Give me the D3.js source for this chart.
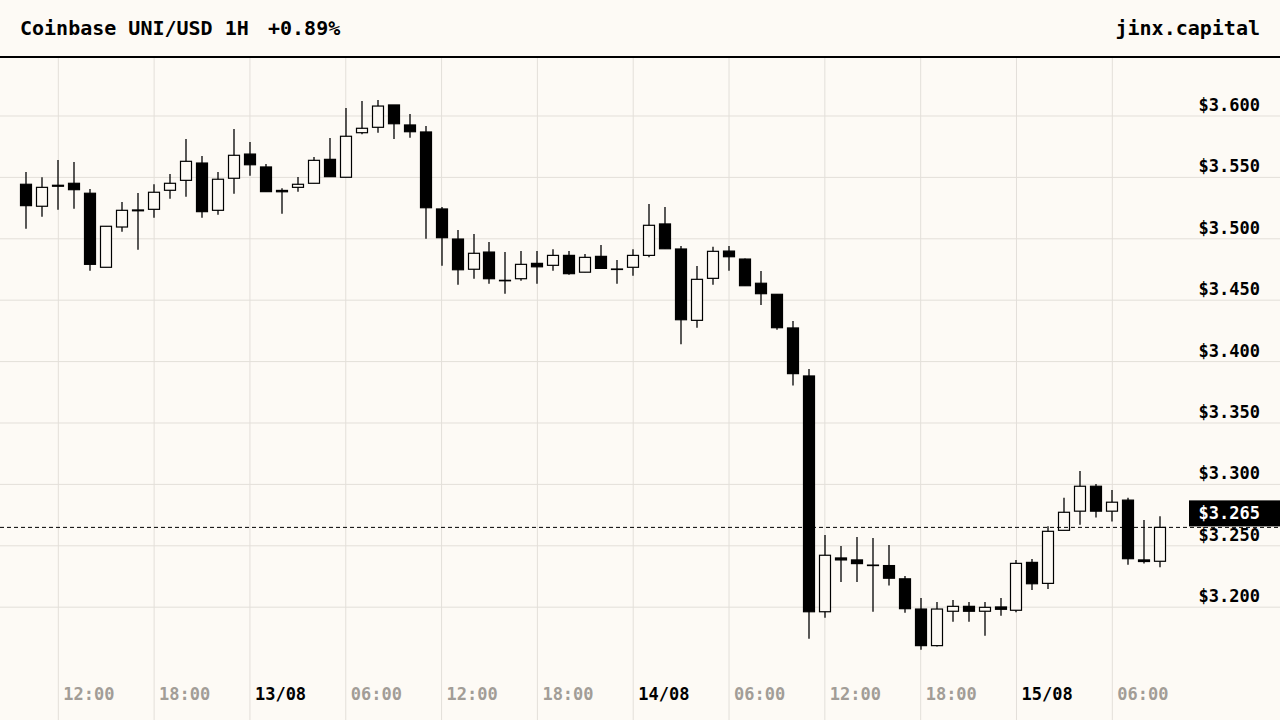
<!DOCTYPE html>
<html>
<head>
<meta charset="utf-8">
<script src="https://cdn.jsdelivr.net/npm/d3@7"></script>
<style>
  html, body { margin: 0; padding: 0; background: #fdfaf5; }
  svg { display: block; }
  text { font-family: "DejaVu Sans Mono", monospace; font-weight: bold; }
</style>
</head>
<body>
<svg id="chart" width="1280" height="720"></svg>
<script>
// ---- data (hourly candles, 12/08 10:00 -> 15/08 09:00) ----
const startTime = new Date(2024, 7, 12, 10, 0);
const opens = [3.5444,3.5265,3.5436,3.5452,3.5371,3.4768,3.5096,3.5228,3.5240,3.5395,
  3.5476,3.5617,3.5232,3.5493,3.5690,3.5585,3.5394,3.5419,3.5452,3.5647,
  3.5501,3.5864,3.5908,3.6090,3.5927,3.5870,3.5243,3.4998,3.4752,3.4892,
  3.4658,3.4675,3.4800,3.4784,3.4865,3.4728,3.4857,3.4750,3.4768,3.4865,
  3.5121,3.4917,3.4336,3.4678,3.4900,3.4835,3.4638,3.4548,3.4274,3.3883,
  3.1963,3.2401,3.2385,3.2339,3.2339,3.2231,3.1985,3.1687,3.1967,3.2007,
  3.1967,3.2002,3.1975,3.2365,3.2194,3.2626,3.2782,3.2985,3.2782,3.2872,
  3.2385,3.2374];
const highs = [3.5544,3.5501,3.5642,3.5625,3.5406,3.5102,3.5300,3.5373,3.5444,3.5528,
  3.5813,3.5674,3.5544,3.5894,3.5788,3.5609,3.5411,3.5503,3.5666,3.5821,
  3.6065,3.6122,3.6130,3.6090,3.6016,3.5919,3.5259,3.5072,3.5039,3.4974,
  3.4892,3.4900,3.4900,3.4915,3.4900,3.4876,3.4949,3.4827,3.4915,3.5283,
  3.5259,3.4941,3.4778,3.4936,3.4941,3.4840,3.4738,3.4548,3.4331,3.3940,
  3.2588,3.2498,3.2572,3.2564,3.2506,3.2255,3.2075,3.2042,3.2059,3.2042,
  3.2042,3.2075,3.2384,3.2393,3.2659,3.2891,3.3110,3.3003,3.2954,3.2891,
  3.2711,3.2741];
const lows = [3.5082,3.5180,3.5237,3.5245,3.4740,3.4768,3.5058,3.4911,3.5172,3.5327,
  3.5343,3.5172,3.5196,3.5367,3.5514,3.5384,3.5205,3.5384,3.5452,3.5506,
  3.5501,3.5851,3.5864,3.5813,3.5823,3.5001,3.4781,3.4626,3.4675,3.4634,
  3.4553,3.4659,3.4634,3.4740,3.4708,3.4728,3.4759,3.4634,3.4700,3.4849,
  3.4919,3.4142,3.4276,3.4626,3.4740,3.4618,3.4461,3.4260,3.3805,3.1744,
  3.1915,3.2206,3.2206,3.1963,3.2177,3.1955,3.1654,3.1679,3.1882,3.1882,
  3.1768,3.1931,3.1958,3.2141,3.2149,3.2626,3.2672,3.2730,3.2698,3.2346,
  3.2355,3.2325];
const closes = [3.5270,3.5419,3.5428,3.5400,3.4792,3.5102,3.5232,3.5235,3.5379,3.5452,
  3.5631,3.5221,3.5485,3.5680,3.5603,3.5384,3.5383,3.5444,3.5639,3.5506,
  3.5835,3.5900,3.6081,3.5937,3.5872,3.5253,3.5009,3.4748,3.4882,3.4675,
  3.4662,3.4792,3.4772,3.4865,3.4716,3.4849,3.4759,3.4754,3.4865,3.5110,
  3.4919,3.4341,3.4670,3.4898,3.4854,3.4618,3.4553,3.4276,3.3902,3.1963,
  3.2423,3.2385,3.2355,3.2343,3.2236,3.1988,3.1687,3.1985,3.2007,3.1967,
  3.1999,3.1983,3.2357,3.2191,3.2618,3.2773,3.2985,3.2782,3.2855,3.2395,
  3.2372,3.2650];
const priceTicks = [3.2, 3.25, 3.3, 3.35, 3.4, 3.45, 3.5, 3.55, 3.6];
const lastPrice = 3.265;
const titleText = "Coinbase UNI/USD 1H";
const changeText = "+0.89%";
const brandText = "jinx.capital";

// ---- build ----
const candles = opens.map((o, i) => ({
  t: d3.timeHour.offset(startTime, i), o, h: highs[i], l: lows[i], c: closes[i]
}));

const W = 1280, H = 720;
const bg = "#fdfaf5", grid = "#e3dfd9", ink = "#000";
const svg = d3.select("#chart");
svg.append("rect").attr("width", W).attr("height", H).attr("fill", bg);

const x = d3.scaleTime()
  .domain([new Date(2024, 7, 12, 12, 0), new Date(2024, 7, 15, 6, 0)])
  .range([58.3, 1112.3]);
const y = d3.scaleLinear().domain([3.2, 3.6]).range([607.2, 116]);

// vertical grid + time labels
const xTicks = d3.timeHour.every(6).range(new Date(2024, 7, 12, 12, 0), new Date(2024, 7, 15, 7, 0));
const gx = svg.append("g");
gx.selectAll("line").data(xTicks).join("line")
  .attr("x1", d => x(d)).attr("x2", d => x(d))
  .attr("y1", 58).attr("y2", H)
  .attr("stroke", grid).attr("stroke-width", 1);
const fmtTime = d3.timeFormat("%H:%M"), fmtDay = d3.timeFormat("%d/%m");
gx.selectAll("text").data(xTicks).join("text")
  .attr("x", d => x(d) + 5).attr("y", 700)
  .attr("font-size", 17)
  .attr("fill", d => d.getHours() === 0 ? ink : "#a29d97")
  .text(d => d.getHours() === 0 ? fmtDay(d) : fmtTime(d));

// horizontal grid + price labels
const gy = svg.append("g");
gy.selectAll("line").data(priceTicks).join("line")
  .attr("x1", 0).attr("x2", W)
  .attr("y1", d => y(d)).attr("y2", d => y(d))
  .attr("stroke", grid).attr("stroke-width", 1);
gy.selectAll("text").data(priceTicks).join("text")
  .attr("x", 1260).attr("y", d => y(d) - 5)
  .attr("text-anchor", "end").attr("font-size", 17).attr("fill", ink)
  .text(d => "$" + d3.format(".3f")(d));

// candles
const bw = 11;
const gc = svg.append("g");
gc.selectAll("line").data(candles).join("line")
  .attr("x1", d => Math.round(x(d.t))).attr("x2", d => Math.round(x(d.t)))
  .attr("y1", d => y(d.h)).attr("y2", d => y(d.l))
  .attr("stroke", ink).attr("stroke-width", 1.3);
gc.selectAll("rect").data(candles).join("rect")
  .attr("x", d => Math.round(x(d.t)) - bw / 2)
  .attr("width", bw)
  .attr("y", d => y(Math.max(d.o, d.c)))
  .attr("height", d => Math.max(0.4, Math.abs(y(d.o) - y(d.c))))
  .attr("fill", d => d.c >= d.o ? bg : ink)
  .attr("stroke", ink).attr("stroke-width", 1.2);

// last price line + label
const ly = y(lastPrice);
svg.append("line").attr("x1", 0).attr("x2", W).attr("y1", ly).attr("y2", ly)
  .attr("stroke", ink).attr("stroke-width", 1).attr("stroke-dasharray", "4,3");
svg.append("rect").attr("x", 1189).attr("y", ly - 27).attr("width", W - 1189).attr("height", 26)
  .attr("fill", ink);
svg.append("text").attr("x", 1260).attr("y", ly - 8)
  .attr("text-anchor", "end").attr("font-size", 17).attr("fill", "#fff")
  .text("$" + d3.format(".3f")(lastPrice));

// header
svg.append("rect").attr("x", 0).attr("y", 0).attr("width", W).attr("height", 56).attr("fill", bg);
svg.append("line").attr("x1", 0).attr("x2", W).attr("y1", 57).attr("y2", 57)
  .attr("stroke", ink).attr("stroke-width", 2);
svg.append("text").attr("x", 20).attr("y", 35).attr("font-size", 20).attr("fill", ink)
  .text(titleText);
svg.append("text").attr("x", 268).attr("y", 35).attr("font-size", 20).attr("fill", ink)
  .text(changeText);
svg.append("text").attr("x", 1260).attr("y", 35).attr("text-anchor", "end")
  .attr("font-size", 20).attr("fill", ink).text(brandText);
</script>
</body>
</html>
